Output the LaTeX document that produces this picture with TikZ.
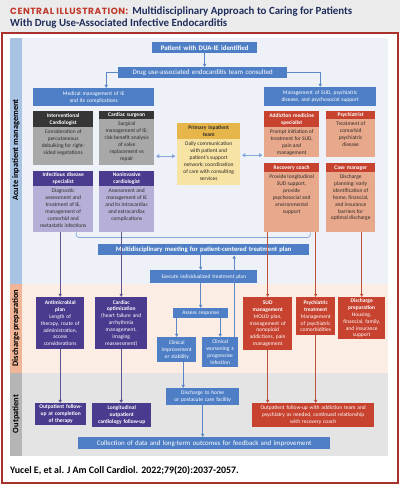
\documentclass[tikz,border=0pt]{standalone}
\usepackage{fontspec}
\setmainfont{Carlito}
\newfontfamily\ciFont[LetterSpace=6]{Poppins}
\usetikzlibrary{arrows.meta,calc}
\definecolor{blueB}{HTML}{4E7FC6}
\definecolor{acuteBg}{HTML}{EEF2F8}
\definecolor{acuteBand}{HTML}{A9C3E5}
\definecolor{dischBand}{HTML}{EFB596}
\definecolor{dischBg}{HTML}{FBEDE4}
\definecolor{outBand}{HTML}{B5B5B5}
\definecolor{outBg}{HTML}{E4E4E4}
\definecolor{darkH}{HTML}{363636}
\definecolor{grayB}{HTML}{A8A8A8}
\definecolor{purH}{HTML}{4B3B8E}
\definecolor{purB}{HTML}{B6AFD7}
\definecolor{redH}{HTML}{C7432F}
\definecolor{salB}{HTML}{E8A88B}
\definecolor{yelH}{HTML}{E7B64A}
\definecolor{yelB}{HTML}{F7E3A3}
\definecolor{frameRed}{HTML}{A8312B}
\definecolor{titleRed}{HTML}{C0392B}
\definecolor{navy}{HTML}{1F2D5C}
\definecolor{arrBlue}{HTML}{5C87C6}
\definecolor{arrPur}{HTML}{5D5690}
\definecolor{arrRed}{HTML}{C0503E}
\definecolor{dblBlue}{HTML}{86A8DA}
\definecolor{headBg}{HTML}{EBEBEB}
\definecolor{txtDark}{HTML}{2E2A28}
\newcommand{\fs}{\fontsize{5.5}{6.9}\selectfont}
\newcommand{\fsb}{\fontsize{5.5}{6.9}\selectfont\bfseries}
\newcommand{\fsT}{\fontsize{6.9}{8}\selectfont}
\tikzset{
  base/.style={inner xsep=0pt, inner ysep=0pt, anchor=north west, align=center},
  bb/.style={base, fill=blueB, text=white, font=\fs},
  hdDark/.style={base, fill=darkH, text=white, font=\fsb},
  bdGray/.style={base, fill=grayB},
  hdPur/.style={base, fill=purH, text=white, font=\fsb},
  bdPur/.style={base, fill=purB},
  hdRed/.style={base, fill=redH, text=white, font=\fsb},
  bdSal/.style={base, fill=salB},
  hdYel/.style={base, fill=yelH, text=txtDark, font=\fsb},
  bdYel/.style={base, fill=yelB},
  btxt/.style={inner sep=0pt, anchor=north, align=center, font=\fs, text=txtDark, yshift=-2.5pt},
  purBox/.style={base, fill=purH, text=white, font=\fs},
  redBox/.style={base, fill=redH, text=white, font=\fs},
  barrow/.style={draw=arrBlue, line width=0.8pt, -{Triangle[length=3.2pt,width=3.2pt]}},
  parrow/.style={draw=arrPur, line width=0.8pt, -{Triangle[length=3.2pt,width=3.2pt]}},
  rarrow/.style={draw=arrRed, line width=0.8pt, -{Triangle[length=3.2pt,width=3.2pt]}},
  dbl/.style={draw=dblBlue, line width=1.1pt, {Triangle[length=3.5pt,width=4pt]}-{Triangle[length=3.5pt,width=4pt]}},
  brk/.style={draw=dblBlue, line width=0.7pt, rounded corners=2.5pt},
  sidelab/.style={rotate=90, font=\fontsize{8.4}{9}\selectfont\bfseries, text=black, inner sep=0pt}
}
\begin{document}
\begin{tikzpicture}[x=1pt,y=-1pt]
\useasboundingbox (0,0) rectangle (400,485);
% backgrounds
\fill[white] (0,0) rectangle (400,485);
\fill[headBg] (0,0) rectangle (400,33);
\fill[acuteBg] (22,38) rectangle (388,284);
\fill[dischBg] (22,284) rectangle (388,373);
\fill[outBg] (22,373) rectangle (388,456);
\fill[acuteBand] (10,38) rectangle (22,284);
\fill[dischBand] (10,284) rectangle (22,373);
\fill[outBand] (10,373) rectangle (22,456);
\draw[frameRed, line width=1.3pt] (2,33) rectangle (398,483);
% title
\node[anchor=base west, inner sep=0pt] (title1) at (10,14) {{\ciFont\bfseries\fontsize{9}{10}\selectfont\color{titleRed}CENTRAL ILLUSTRATION:}\hspace{4pt}{\fontsize{10.9}{12}\selectfont\bfseries\color{navy}Multidisciplinary Approach to Caring for Patients}};
\node[anchor=base west, inner sep=0pt] (title2) at (10,26) {\fontsize{10.9}{12}\selectfont\bfseries\color{navy}With Drug Use-Associated Infective Endocarditis};
% citation
\node[anchor=base west, inner sep=0pt, font=\fontsize{9.9}{11}\selectfont\bfseries] (cite) at (10,473) {Yucel E, et al. J Am Coll Cardiol. 2022;79(20):2037-2057.};
% side labels
\node[sidelab] (lab1) at (16,150) {Acute inpatient management};
\node[sidelab] (lab2) at (16,328) {Discharge preparation};
\node[sidelab] (lab3) at (16,414) {Outpatient};
% top flow
\node[bb, font=\fsT\bfseries, text width=105pt, minimum height=11pt] (pat) at (152,42) {Patient with DUA-IE identified};
\node[bb, font=\fsT, text width=169pt, minimum height=11pt] (team) at (118,67) {Drug use-associated endocarditis team consulted};
\node[bb, text width=121pt, minimum height=18pt] (med) at (33,88) {Medical management of IE\\and its complications};
\node[bb, text width=112pt, minimum height=19pt] (sud) at (264,87) {Management of SUD, psychiatric\\disease, and psychosocial support};
\draw[barrow] (pat.south) -- (pat.south |- team.north);
\draw[barrow] (team.west) -| ([xshift=12.5pt]med.north);
\draw[barrow] (team.east) -| (sud.north);
% interventional cardiologist
\node[hdDark, text width=60pt, minimum height=16pt] (icH) at (33,111) {Interventional\\Cardiologist};
\node[bdGray, minimum width=60pt, minimum height=38pt] (icB) at (33,127) {};
\node[btxt] (icT) at (icB.north) {Consideration of\\percutaneous\\debulking for right-\\sided vegetations};
% cardiac surgeon
\node[hdDark, text width=55pt, minimum height=8pt] (csH) at (99,111) {Cardiac surgeon};
\node[bdGray, minimum width=55pt, minimum height=46pt] (csB) at (99,119) {};
\node[btxt] (csT) at (csB.north) {Surgical\\management of IE;\\risk-benefit analysis\\of valve\\replacement vs\\repair};
% infectious disease
\node[hdPur, text width=60pt, minimum height=15pt] (idH) at (33,171) {Infectious disease\\specialist};
\node[bdPur, minimum width=60pt, minimum height=46pt] (idB) at (33,186) {};
\node[btxt] (idT) at (idB.north) {Diagnostic\\assessment and\\treatment of IE,\\management of\\comorbid and\\metastatic infections};
% noninvasive
\node[hdPur, text width=55pt, minimum height=15pt] (niH) at (99,171) {Noninvasive\\cardiologist};
\node[bdPur, minimum width=55pt, minimum height=46pt] (niB) at (99,186) {};
\node[btxt] (niT) at (niB.north) {Assessment and\\management of IE\\and its intracardiac\\and extracardiac\\complications};
% primary inpatient team
\node[hdYel, text width=63pt, minimum height=16pt] (prH) at (177,123) {Primary inpatient\\team};
\node[bdYel, minimum width=63pt, minimum height=46pt] (prB) at (177,139) {};
\node[btxt] (prT) at (prB.north) {Daily communication\\with patient and\\patient's support\\network; coordination\\of care with consulting\\services};
% addiction medicine
\node[hdRed, text width=55pt, minimum height=16pt] (amH) at (264,111) {Addiction medicine\\specialist};
\node[bdSal, minimum width=55pt, minimum height=30pt] (amB) at (264,127) {};
\node[btxt] (amT) at (amB.north) {Prompt initiation of\\treatment for SUD,\\pain and\\management};
% psychiatrist
\node[hdRed, text width=49pt, minimum height=8pt] (psH) at (326,111) {Psychiatrist};
\node[bdSal, minimum width=49pt, minimum height=38pt] (psB) at (326,119) {};
\node[btxt] (psT) at (psB.north) {Treatment of\\comorbid\\psychiatric\\disease};
% recovery coach
\node[hdRed, text width=55pt, minimum height=9pt] (rcH) at (264,163) {Recovery coach};
\node[bdSal, minimum width=55pt, minimum height=60pt] (rcB) at (264,172) {};
\node[btxt] (rcT) at (rcB.north) {Provide longitudinal\\SUD support,\\provide\\psychosocial and\\environmental\\support};
% case manager
\node[hdRed, text width=49pt, minimum height=9pt] (cmH) at (326,163) {Case manager};
\node[bdSal, minimum width=49pt, minimum height=60pt] (cmB) at (326,172) {};
\node[btxt] (cmT) at (cmB.north) {Discharge\\planning; early\\identification of\\home, financial,\\and insurance\\barriers for\\optimal discharge};
% double arrows
\draw[dbl] ([xshift=1.5pt,yshift=-14pt]csB.east) -- ([xshift=-1.5pt,yshift=-14pt]csB.east -| prB.west);
\draw[dbl] ([xshift=1.5pt,yshift=-13pt]amB.west -| prB.east) -- ([xshift=-1.5pt,yshift=-13pt]amB.west);
% bracket
\draw[brk] ([xshift=13pt]idB.south) -- ([xshift=13pt,yshift=-5pt]idB.south) -- ([xshift=18.5pt,yshift=-5pt]rcB.south) -- ([xshift=18.5pt]rcB.south);
% meeting and central flow
\node[bb, font=\fontsize{6.7}{8}\selectfont\bfseries, text width=211pt, minimum height=11pt] (meet) at (98,244) {Multidisciplinary meeting for patient-centered treatment plan};
\node[bb, font=\fontsize{5.4}{6.5}\selectfont, text width=107pt, minimum height=13pt] (exec) at (150,270) {Execute individualized treatment plan};
\node[bb, text width=55pt, minimum height=10pt] (assess) at (173,308) {Assess response};
\node[bb, text width=39pt, minimum height=25pt] (impr) at (157,337) {Clinical\\improvement\\or stability};
\node[bb, text width=36pt, minimum height=30pt] (wors) at (202,337) {Clinical\\worsening ±\\progressive\\infection};
\node[bb, text width=73pt, minimum height=17pt] (disch) at (166,388) {Discharge to home\\or postacute care facility};
\node[bb, font=\fsT, text width=252pt, minimum height=12pt] (coll) at (78,437) {Collection of data and long-term outcomes for feedback and improvement};
\draw[barrow] ([xshift=-3pt]meet.south) -- ([xshift=-3pt]meet.south |- exec.north);
\draw[barrow] (exec.south -| assess.north) -- (assess.north);
\draw[barrow] (assess.south -| impr.north) -- (impr.north);
\draw[barrow] (assess.south -| wors.north) -- (wors.north);
\draw[barrow] ([xshift=14pt]wors.north) -- ([xshift=14pt]wors.north |- meet.south);
\draw[barrow] ([xshift=6.5pt]impr.south) -- ([xshift=6.5pt]impr.south |- disch.north);
\draw[barrow] (disch.south) -- (disch.south |- coll.north);
% purple discharge / outpatient
\node[purBox, text width=48pt, minimum height=52pt] (amp) at (36,297) {\textbf{Antimicrobial}\\\textbf{plan}\\Length of\\therapy, route of\\administration,\\access\\considerations};
\node[purBox, text width=52pt, minimum height=52pt] (cop) at (95,297) {\textbf{Cardiac}\\\textbf{optimization}\\(heart failure and\\arrhythmia\\management,\\imaging\\reassessment)};
\node[purBox, font=\fsb, text width=51pt, minimum height=22pt] (opf) at (35,403) {Outpatient follow-\\up at completion\\of therapy};
\node[purBox, font=\fsb, text width=59pt, minimum height=24pt] (lof) at (92,403) {Longitudinal\\outpatient\\cardiology follow-up};
\draw[parrow] (amp.north |- idB.south) -- (amp.north);
\draw[parrow] (cop.north |- niB.south) -- (cop.north);
\draw[parrow] (amp.south) -- (amp.south |- opf.north);
\draw[parrow] (cop.south) -- (cop.south |- lof.north);
% red discharge / outpatient
\node[redBox, text width=49pt, minimum height=53pt] (sudm) at (243,297) {\textbf{SUD}\\\textbf{management}\\MOUD plan,\\management of\\nonopioid\\addictions, pain\\management};
\node[redBox, text width=39pt, minimum height=38pt] (psyt) at (296,297) {\textbf{Psychiatric}\\\textbf{treatment}\\Management\\of psychiatric\\comorbidities};
\node[redBox, text width=47pt, minimum height=42pt] (dprep) at (338,297) {\textbf{Discharge}\\\textbf{preparation}\\Housing,\\financial, family,\\and insurance\\support};
\node[redBox, text width=122pt, minimum height=24pt] (outr) at (252,403) {Outpatient follow-up with addiction team and\\psychiatry as needed, continued relationship\\with recovery coach};
\draw[rarrow] (sudm.north |- rcB.south) -- (sudm.north);
\draw[rarrow] (psyt.north |- rcB.south) -- (psyt.north);
\draw[rarrow] (dprep.north |- cmB.south) -- (dprep.north);
\draw[rarrow] (sudm.south) -- (sudm.south |- outr.north);
\draw[rarrow] (psyt.south) -- (psyt.south |- outr.north);
\end{tikzpicture}
\end{document}
